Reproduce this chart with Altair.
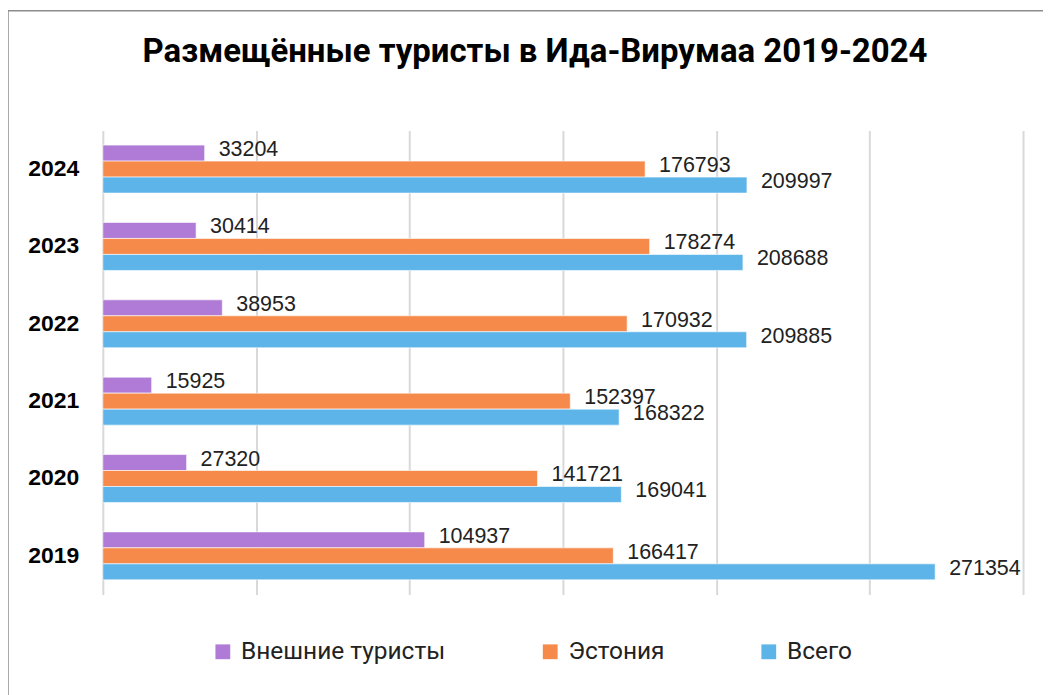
import altair as alt
import pandas as pd

years = ["2024", "2023", "2022", "2021", "2020", "2019"]
series = ["Внешние туристы", "Эстония", "Всего"]
foreign = [33204, 30414, 38953, 15925, 27320, 104937]
estonia = [176793, 178274, 170932, 152397, 141721, 166417]
total = [209997, 208688, 209885, 168322, 169041, 271354]
colors = ["#B07BD6", "#F58A4B", "#5DB4E8"]
title_text = ["Размещённые туристы в Ида-Вирумаа 2019-2024"]

rows = []
for i, y in enumerate(years):
    for s, vals in zip(series, [foreign, estonia, total]):
        rows.append({"year": y, "series": s, "value": vals[i]})
df = pd.DataFrame(rows)

base = alt.Chart(df)

y_enc = alt.Y("year:N", sort=years, title=None,
              scale=alt.Scale(paddingInner=0.38, paddingOuter=0.19),
              axis=alt.Axis(labelFont="Liberation Sans", labelFontSize=23, labelFontWeight="bold",
                            labelColor="#000000", labelPadding=24, ticks=False, domain=False))
x_enc = alt.X("value:Q", title=None,
              scale=alt.Scale(domain=[0, 300000], nice=False),
              axis=alt.Axis(values=[0, 50000, 100000, 150000, 200000, 250000, 300000],
                            labels=False, ticks=False, domain=False, grid=True,
                            gridColor="#D9D9D9", gridWidth=2))
yoff = alt.YOffset("series:N", sort=series)

bars = base.mark_bar(stroke="white", strokeWidth=0.6).encode(
    y=y_enc, x=x_enc, yOffset=yoff,
    color=alt.Color("series:N", sort=series,
                    scale=alt.Scale(domain=series, range=colors),
                    legend=alt.Legend(title=None, orient="none", direction="horizontal",
                                      legendX=108, legendY=510, symbolType="square",
                                      symbolSize=220, symbolStrokeWidth=0,
                                      labelFont="Roboto", labelFontSize=24.5,
                                      labelColor="#222222", columnPadding=92, labelOffset=6,
                                      labelLimit=400)),
)

labels = base.mark_text(align="left", baseline="middle", dx=14, dy=-3,
                        font="Liberation Sans", fontSize=21.5, color="#222222").encode(
    y=alt.Y("year:N", sort=years), x="value:Q", yOffset=yoff, text="value:Q"
)

title = alt.Chart(pd.DataFrame({"t": title_text})).mark_text(
    align="center", baseline="middle", font="Roboto", fontSize=33,
    fontWeight="bold", color="#000000"
).encode(x=alt.value(433), y=alt.value(-79), text="t:N")

border = alt.Chart(pd.DataFrame({"a": [0]})).mark_rule(color="#8C8C8C", strokeWidth=1.5).encode(
    x=alt.value(-95), y=alt.value(-120), y2=alt.value(600)
)
border_top = alt.Chart(pd.DataFrame({"a": [0]})).mark_rule(color="#8C8C8C", strokeWidth=1.5).encode(
    x=alt.value(-100), x2=alt.value(960), y=alt.value(-120)
)

chart = alt.layer(border, border_top, bars, labels, title).properties(
    width=922, height=465,
    padding={"left": 95, "top": 122, "right": 20, "bottom": 100},
    autosize=alt.AutoSizeParams(type="none"),
).configure_view(stroke=None)

chart.save("out.html", embed_options={"renderer": "svg", "actions": False})
